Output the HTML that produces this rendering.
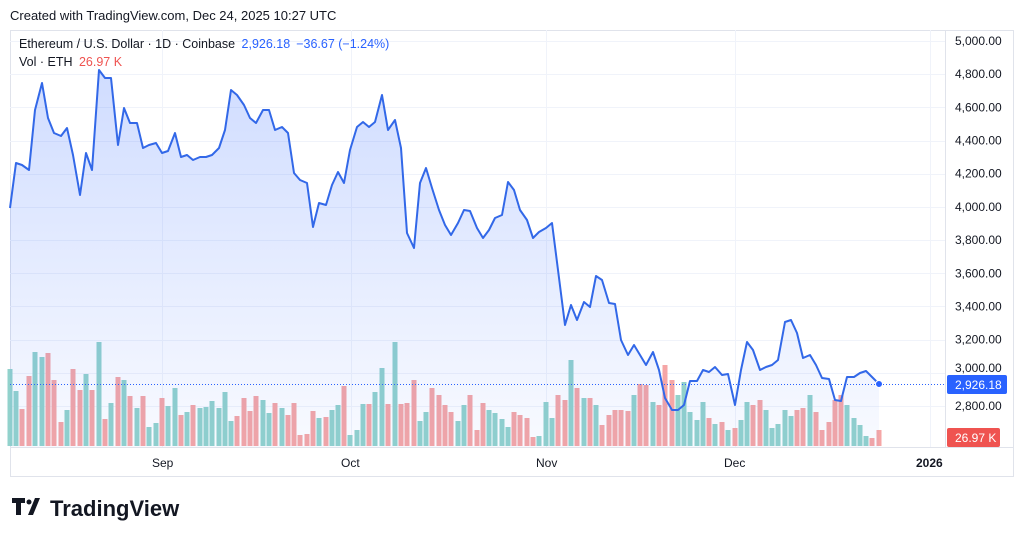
<!DOCTYPE html>
<html><head><meta charset="utf-8"><style>
body{margin:0;background:#fff;width:1024px;height:539px;overflow:hidden;font-family:"Liberation Sans",sans-serif}
svg text{font-family:"Liberation Sans",sans-serif}
</style></head><body>
<svg id="s" width="1024" height="539" xmlns="http://www.w3.org/2000/svg">
<defs><linearGradient id="g" x1="0" y1="0" x2="0" y2="1">
<stop offset="0" stop-color="#2962ff" stop-opacity="0.22"/><stop offset="1" stop-color="#2962ff" stop-opacity="0.03"/></linearGradient></defs>
<text x="10" y="20" font-size="13" fill="#131722">Created with TradingView.com, Dec 24, 2025 10:27 UTC</text>
<rect x="10.5" y="30.5" width="1003" height="446" fill="none" stroke="#e0e3eb"/>
<line x1="945.5" y1="30" x2="945.5" y2="447" stroke="#e0e3eb"/>
<line x1="10" y1="447.5" x2="1013" y2="447.5" stroke="#e0e3eb"/>
<g id="grid"></g>
<g id="vol"></g>
<path id="area" fill="url(#g)"/>
<path id="line" fill="none" stroke="#3268e8" stroke-width="2" stroke-linejoin="round"/>
<line x1="10" y1="384.5" x2="945" y2="384.5" stroke="#2962ff" stroke-width="1" stroke-dasharray="1,2"/>
<circle cx="879" cy="384" r="3.5" fill="#2962ff" stroke="#fff" stroke-width="1"/>
<g id="ax" font-size="12" fill="#131722"></g>
<rect x="947" y="375" width="60" height="19" rx="2" fill="#2962ff"/>
<text x="955" y="389" font-size="12" fill="#fff">2,926.18</text>
<rect x="947" y="428" width="53" height="19" rx="2" fill="#ef5350"/>
<text x="955" y="442" font-size="12" fill="#fff">26.97 K</text>
<g font-size="12" fill="#131722">
<text x="152" y="467">Sep</text><text x="341" y="467">Oct</text><text x="536" y="467">Nov</text><text x="724" y="467">Dec</text>
<text x="916" y="467" font-weight="bold">2026</text></g>
<text x="19" y="48" font-size="12.5" fill="#131722">Ethereum / U.S. Dollar · 1D · Coinbase <tspan fill="#2962ff" dx="3">2,926.18</tspan><tspan fill="#2962ff" dx="6">−36.67 (−1.24%)</tspan></text>
<text x="19" y="66" font-size="12.5" fill="#131722">Vol · ETH <tspan fill="#ef5350" dx="3">26.97 K</tspan></text>
<g transform="translate(12,498)"><path d="M0 0h13v5h-4v12h-5v-12h-4z M16 17l7-17h5l-7 17z" fill="#131722"/><circle cx="17" cy="4" r="2.5" fill="#131722"/></g>
<text x="50" y="516" font-size="22" font-weight="bold" fill="#131722">TradingView</text>
</svg>
<script>
var pts=[[10,208],[16,163],[22,165],[29,170],[35,110],[42,83],[48,118],[54,133],[61,136],[67,128],[73,155],[80,195],[86,153],[92,170],[99,70],[105,78],[111,78],[118,145],[124,108],[130,123],[137,123],[143,148],[149,145],[156,143],[162,153],[168,151],[175,133],[181,157],[187,155],[193,160],[200,157],[206,157],[212,155],[219,148],[225,130],[231,90],[237,95],[244,105],[250,118],[256,123],[263,110],[269,110],[275,130],[282,127],[288,133],[294,173],[300,180],[307,183],[313,227],[319,203],[326,205],[332,185],[338,172],[344,183],[350,150],[357,127],[363,122],[369,127],[375,122],[382,95],[388,130],[395,120],[401,148],[407,233],[414,248],[420,183],[426,168],[432,188],[439,210],[445,225],[451,235],[458,223],[464,210],[470,211],[477,228],[483,238],[489,230],[495,218],[502,215],[508,182],[514,190],[520,210],[527,220],[533,238],[539,232],[546,228],[552,223],[558,270],[565,325],[571,305],[577,320],[584,302],[590,307],[596,276],[602,280],[609,303],[615,304],[621,340],[628,355],[634,345],[640,355],[646,365],[653,352],[659,370],[665,398],[672,410],[678,410],[684,405],[690,381],[697,381],[703,370],[709,372],[715,367],[722,375],[728,374],[735,405],[741,370],[747,342],[753,350],[760,370],[766,367],[772,365],[778,360],[785,322],[791,320],[797,333],[803,358],[810,355],[816,365],[822,378],[829,379],[835,400],[841,401],[847,377],[854,377],[860,373],[866,371],[872,377],[879,384]];
var d=pts.map((p,i)=>(i?'L':'M')+p[0]+' '+p[1]).join(' ');
document.getElementById('line').setAttribute('d',d);
document.getElementById('area').setAttribute('d',d+' L879 447 L10 447 Z');
var ax=document.getElementById('ax'),gr=document.getElementById('grid'),h='',gh='';
for(var v=2800;v<=5000;v+=200){var y=41+(5000-v)/200*33.18;
gh+='<line x1="10" x2="945" y1="'+(Math.round(y)+.5)+'" y2="'+(Math.round(y)+.5)+'" stroke="#f0f3fa"/>';
if(v!=3000)h+='<text x="955" y="'+(y+4)+'">'+v.toLocaleString('en-US')+'.00</text>';}
h+='<text x="955" y="372">3,000.00</text>';
[162,351,546,735,930].forEach(x=>gh+='<line y1="30" y2="447" x1="'+(x+.5)+'" x2="'+(x+.5)+'" stroke="#f0f3fa"/>');
ax.innerHTML=h;gr.innerHTML=gh;
var tops=[369,391,409,376,352,357,353,380,422,410,369,390,374,390,342,419,403,377,380,396,408,396,427,423,398,406,388,415,412,405,408,407,401,408,392,421,416,398,411,396,400,413,403,408,415,403,435,434,411,418,417,410,405,386,435,430,404,404,392,368,404,342,404,403,380,421,412,388,395,405,412,421,405,395,430,403,410,413,419,427,412,415,418,437,436,402,418,395,400,360,388,398,398,405,425,415,410,410,411,395,384,385,402,405,365,380,395,382,412,420,402,418,424,422,430,428,420,402,405,400,410,428,424,410,416,410,408,395,412,430,422,400,395,405,418,425,436,438,430,440,425,436,440,419,422,437,432,435,437,420,422,438,420];
var vh='';
for(var i=0;i<pts.length;i++){var x=pts[i][0],up=i==0||pts[i][1]<=pts[i-1][1];var t=tops[i]||420;
vh+='<rect x="'+(x-2.5)+'" y="'+t+'" width="5" height="'+(446-t)+'" fill="'+(up?'#92d2cc':'#f5a6a6')+'"/>';}
document.getElementById('vol').innerHTML=vh;
</script>
</body></html>
